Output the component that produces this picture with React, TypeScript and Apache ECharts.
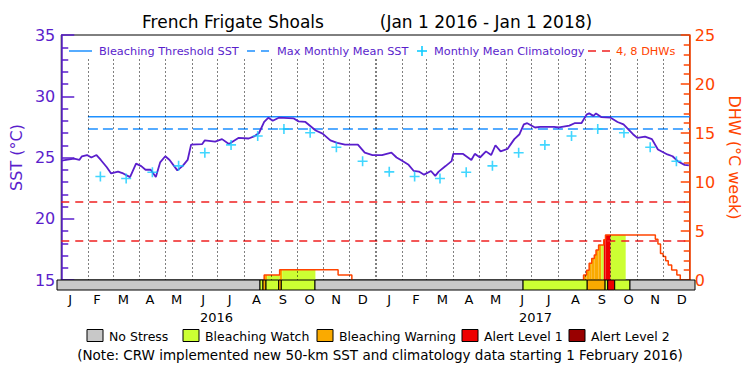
import React, { useEffect, useRef } from "react";
import * as echarts from "echarts";

const FONT = "DejaVu Sans";

// Calendar: day offsets from 1 Jan 2016 (2016 is a leap year)
const totalDays = 731;
const monthStartDays = [0, 31, 60, 91, 121, 152, 182, 213, 244, 274, 305, 335, 366, 397, 425, 456, 486, 517, 547, 578, 609, 639, 670, 700, 731];
const monthLabels = ["J", "F", "M", "A", "M", "J", "J", "A", "S", "O", "N", "D", "J", "F", "M", "A", "M", "J", "J", "A", "S", "O", "N", "D"];
const yearLabels = ["2016", "2017"];

// SST (°C) : [day since 1 Jan 2016, value]
const sstPoints: [number, number][] = [
  [0, 24.75], [15, 24.9], [21, 24.8], [24, 25.1], [30, 25.2], [35, 25.0], [41, 25.2], [46, 24.8],
  [53, 24.2], [58, 23.7], [66, 23.85], [72, 23.7], [80, 23.4], [87, 24.5], [93, 24.3], [98, 24.0],
  [104, 24.0], [110, 23.4], [115, 24.6], [121, 25.1], [126, 24.8], [135, 23.95], [141, 24.3], [147, 24.8],
  [151, 26.05], [164, 26.1], [167, 26.4], [179, 26.3], [187, 26.5], [195, 26.1], [206, 26.6], [218, 26.55],
  [225, 26.75], [230, 27.0], [236, 27.9], [241, 28.25], [246, 28.0], [253, 28.25], [270, 28.2], [276, 27.95],
  [284, 27.9], [296, 27.2], [304, 26.95], [313, 26.4], [321, 26.2], [330, 26.05], [345, 26.05], [353, 25.4],
  [362, 25.2], [373, 25.2], [384, 25.4], [390, 25.0], [396, 24.75], [404, 24.4], [410, 23.9], [416, 23.85],
  [422, 23.6], [430, 23.9], [435, 23.5], [439, 23.85], [447, 24.3], [454, 24.7], [456, 25.3], [467, 25.3],
  [477, 24.8], [481, 25.3], [487, 25.0], [494, 25.5], [500, 25.2], [505, 26.0], [511, 25.5], [519, 25.7],
  [527, 26.5], [533, 26.9], [538, 27.7], [542, 27.8], [551, 27.45], [557, 27.5], [573, 27.5], [579, 27.45],
  [591, 27.6], [597, 27.8], [605, 27.8], [611, 28.5], [614, 28.6], [619, 28.4], [622, 28.6], [628, 28.3],
  [639, 28.25], [647, 27.9], [654, 27.7], [665, 26.9], [670, 26.6], [679, 26.7], [687, 26.5], [694, 25.65],
  [705, 25.25], [711, 25.1], [717, 24.7], [725, 24.4], [730, 24.35]
];

// Monthly mean climatology (Jan..Dec), shown from Feb 2016
const climatologyMonthly = [23.83, 23.45, 23.28, 23.8, 24.32, 25.39, 26.03, 26.75, 27.33, 27.02, 25.84, 24.7];
const climatologyFirstMonth = 1;
const bleachingThreshold = 28.33;
const maxMonthlyMean = 27.33;
const thresholdStartDay = 31;
const dhwLevels = [4, 8];
const gridLineTopSST = 33;

// Degree Heating Weeks: value holds from this day until next entry
const dhwDays = [236, 254, 322, 338, 607.5, 611, 614, 617, 620, 622, 625, 631, 633, 691, 694, 697, 700, 703, 706, 710, 716, 720];
const dhwValues = [0.5, 1.05, 0.5, 0, 0.5, 1.0, 1.7, 2.2, 2.55, 3.06, 3.57, 4.1, 4.6, 4.15, 3.67, 2.7, 2.4, 1.97, 1.53, 1.02, 0.51, 0];

// Bleaching alert status: segment start days and level (0 none .. 4 alert 2)
const statusStartDays = [0, 232.6, 236, 239.5, 254, 257, 295.6, 534, 607.5, 628, 631, 639, 656.5];
const statusLevels = [0, 1, 2, 1, 2, 1, 0, 1, 2, 1, 3, 1, 0];
const statusNames = ["No Stress", "Bleaching Watch", "Bleaching Warning", "Alert Level 1", "Alert Level 2"];
const statusColors = ["#c8c8c8", "#ccff33", "#faaa00", "#ee0000", "#990000"];

const SST_COLOR = "#5a1ecc";
const DHW_COLOR = "#ff4400";
const THRESH_COLOR = "#1e90ff";
const CLIM_COLOR = "#11ccff";
const DHW_LINE_COLOR = "#f02020";

export default function App() {
  const ref = useRef<HTMLDivElement>(null);
  useEffect(() => {
    if (!ref.current) return;
    const chart = echarts.init(ref.current, undefined, { renderer: "svg" });

    const segments = statusStartDays.map((s, i) => [
      s,
      i + 1 < statusStartDays.length ? statusStartDays[i + 1] : totalDays,
      statusLevels[i],
    ]);
    const alertSegments = segments.filter((s) => s[2] > 0);

    const climData: [number, number][] = [];
    for (let m = climatologyFirstMonth; m < 24; m++) {
      const mid = (monthStartDays[m] + monthStartDays[m + 1]) / 2;
      climData.push([mid, climatologyMonthly[m % 12]]);
    }

    const dhwOutline: any[] = [];
    for (let i = 0; i < dhwDays.length; i++) {
      if (i === 0 || dhwValues[i - 1] === 0) {
        if (i > 0) dhwOutline.push(null);
        dhwOutline.push([dhwDays[i], 0]);
      }
      dhwOutline.push([dhwDays[i], dhwValues[i]]);
    }

    const monthLines = monthStartDays.slice(1, -1).map((d) => [
      { coord: [d, gridLineTopSST], lineStyle: { type: [1, 3], color: "#000", width: d === 366 ? 2 : 1 } },
      { coord: [d, 15] },
    ]);

    const plusPath = "path://M4.2,0h1.6v4.2h4.2v1.6h-4.2v4.2h-1.6v-4.2h-4.2v-1.6h4.2z";

    const legendY = 51;
    const legendText = (x: number, text: string, color: string) => ({
      type: "text", x, y: legendY,
      style: { text, fill: color, font: `11.3px "${FONT}"`, align: "left", verticalAlign: "middle" },
    });
    const bottomLegend: any[] = [];
    const boxX = [87, 183, 317, 462, 569];
    statusNames.forEach((n, i) => {
      bottomLegend.push({ type: "rect", shape: { x: boxX[i], y: 329.5, width: 16, height: 12 }, style: { fill: statusColors[i], stroke: "#000", lineWidth: 1 } });
      bottomLegend.push({ type: "text", x: boxX[i] + 22, y: 336, style: { text: n, fill: "#000", font: `12.5px "${FONT}"`, align: "left", verticalAlign: "middle" } });
    });

    chart.setOption({
      animation: false,
      backgroundColor: "#fff",
      textStyle: { fontFamily: FONT },
      grid: [
        { left: 57, right: 55, top: 35, height: 245, show: true, borderColor: "#000", borderWidth: 1, backgroundColor: "transparent" },
        { left: 57, right: 55, top: 280, height: 10, show: false },
      ],
      xAxis: [
        { gridIndex: 0, type: "value", min: 0, max: totalDays, show: false },
        { gridIndex: 1, type: "value", min: 0, max: totalDays, show: false },
        {
          gridIndex: 1, type: "category", data: monthLabels, position: "bottom", boundaryGap: true,
          axisLine: { show: false }, axisTick: { show: false }, splitLine: { show: false },
          axisLabel: { interval: 0, margin: 3, fontSize: 13, color: "#000", fontFamily: FONT },
        },
        {
          gridIndex: 1, type: "category", data: yearLabels, position: "bottom", offset: 18, boundaryGap: true,
          axisLine: { show: false }, axisTick: { show: false }, splitLine: { show: false },
          axisLabel: { interval: 0, margin: 3, fontSize: 13, color: "#000", fontFamily: FONT },
        },
      ],
      yAxis: [
        {
          gridIndex: 0, type: "value", min: 15, max: 35, interval: 5, position: "left",
          name: "SST (°C)", nameLocation: "middle", nameRotate: 90, nameGap: 31,
          nameTextStyle: { color: SST_COLOR, fontSize: 16, fontFamily: FONT },
          axisLine: { show: true, lineStyle: { color: SST_COLOR, width: 1.5 } },
          axisTick: { show: true, inside: true, length: 13, lineStyle: { color: SST_COLOR, width: 1.5 } },
          minorTick: { show: true, splitNumber: 5, length: 7, lineStyle: { color: SST_COLOR, width: 1.5 } },
          axisLabel: { color: SST_COLOR, fontSize: 16, margin: 6, fontFamily: FONT },
          splitLine: { show: false },
        },
        {
          gridIndex: 0, type: "value", min: 0, max: 25, interval: 5, position: "right",
          name: "DHW (°C week)", nameLocation: "middle", nameRotate: -90, nameGap: 34,
          nameTextStyle: { color: DHW_COLOR, fontSize: 16, fontFamily: FONT },
          axisLine: { show: true, lineStyle: { color: DHW_COLOR, width: 1.5 } },
          axisTick: { show: true, inside: true, length: 9, lineStyle: { color: DHW_COLOR, width: 1.5 } },
          minorTick: { show: true, splitNumber: 5, length: 6, lineStyle: { color: DHW_COLOR, width: 1.5 } },
          axisLabel: { color: DHW_COLOR, fontSize: 16, margin: 5, fontFamily: FONT },
          splitLine: { show: false },
        },
        { gridIndex: 1, type: "value", min: 0, max: 1, show: false },
      ],
      series: [
        {
          type: "custom", name: "DHW fill", xAxisIndex: 0, yAxisIndex: 1, z: 1, silent: true,
          data: alertSegments, encode: { x: [0, 1] },
          renderItem: (params: any, api: any) => {
            const s = api.value(0), e = api.value(1), lvl = api.value(2);
            const children: any[] = [];
            for (let i = 0; i < dhwDays.length - 1; i++) {
              const v = dhwValues[i];
              if (!v) continue;
              const a = Math.max(s, dhwDays[i]);
              const b = Math.min(e, dhwDays[i + 1]);
              if (b <= a) continue;
              const p0 = api.coord([a, v]);
              const p1 = api.coord([b, 0]);
              children.push({
                type: "rect",
                shape: { x: p0[0], y: p0[1], width: p1[0] - p0[0], height: p1[1] - p0[1] },
                style: { fill: statusColors[lvl] },
              });
            }
            return { type: "group", children };
          },
        },
        {
          type: "custom", name: "Status", xAxisIndex: 1, yAxisIndex: 2, z: 5, silent: true,
          data: segments, encode: { x: [0, 1] },
          renderItem: (params: any, api: any) => {
            const s = api.value(0), e = api.value(1), lvl = api.value(2);
            const p0 = api.coord([s, 1]);
            const p1 = api.coord([e, 0]);
            return {
              type: "rect",
              shape: { x: p0[0], y: p0[1], width: p1[0] - p0[0], height: p1[1] - p0[1] },
              style: { fill: statusColors[lvl], stroke: "#000", lineWidth: 1 },
            };
          },
        },
        {
          type: "line", name: "Bleaching Threshold SST", xAxisIndex: 0, yAxisIndex: 0, z: 3,
          data: [[thresholdStartDay, bleachingThreshold], [totalDays, bleachingThreshold]],
          symbol: "none", lineStyle: { color: THRESH_COLOR, width: 1.5 }, silent: true,
        },
        {
          type: "line", name: "Max Monthly Mean SST", xAxisIndex: 0, yAxisIndex: 0, z: 3,
          data: [[thresholdStartDay, maxMonthlyMean], [totalDays, maxMonthlyMean]],
          symbol: "none", lineStyle: { color: THRESH_COLOR, width: 1.5, type: [10, 5] }, silent: true,
        },
        {
          type: "line", name: "DHW", xAxisIndex: 0, yAxisIndex: 1, z: 4, step: "end",
          data: dhwOutline, connectNulls: false, symbol: "none",
          lineStyle: { color: DHW_COLOR, width: 1.5 }, silent: true,
          markLine: {
            silent: true, symbol: ["none", "none"], label: { show: false },
            lineStyle: { color: DHW_LINE_COLOR, type: [8, 6], width: 1.5 },
            data: dhwLevels.map((v) => ({ yAxis: v })),
          },
        },
        {
          type: "line", name: "SST", xAxisIndex: 0, yAxisIndex: 0, z: 6,
          data: sstPoints, symbol: "none", lineStyle: { color: SST_COLOR, width: 1.8 }, silent: true,
          markLine: {
            silent: true, symbol: ["none", "none"], label: { show: false },
            data: monthLines,
          },
        },
        {
          type: "scatter", name: "Monthly Mean Climatology", xAxisIndex: 0, yAxisIndex: 0, z: 7,
          data: climData, symbol: plusPath, symbolSize: 10, itemStyle: { color: CLIM_COLOR }, silent: true,
        },
      ],
      graphic: [
        { type: "text", x: 233, y: 22, style: { text: "French Frigate Shoals", fill: "#000", font: `17px "${FONT}"`, align: "center", verticalAlign: "middle" } },
        { type: "text", x: 486, y: 22, style: { text: "(Jan 1 2016 - Jan 1 2018)", fill: "#000", font: `17px "${FONT}"`, align: "center", verticalAlign: "middle" } },
        { type: "line", shape: { x1: 69, y1: legendY, x2: 92, y2: legendY }, style: { stroke: THRESH_COLOR, lineWidth: 1.5 } },
        legendText(99, "Bleaching Threshold SST", SST_COLOR),
        { type: "line", shape: { x1: 247, y1: legendY, x2: 270, y2: legendY }, style: { stroke: THRESH_COLOR, lineWidth: 1.5, lineDash: [8, 6] } },
        legendText(277, "Max Monthly Mean SST", SST_COLOR),
        { type: "line", shape: { x1: 417, y1: legendY, x2: 427, y2: legendY }, style: { stroke: CLIM_COLOR, lineWidth: 1.6 } },
        { type: "line", shape: { x1: 422, y1: legendY - 5, x2: 422, y2: legendY + 5 }, style: { stroke: CLIM_COLOR, lineWidth: 1.6 } },
        legendText(434, "Monthly Mean Climatology", SST_COLOR),
        { type: "line", shape: { x1: 588, y1: legendY, x2: 611, y2: legendY }, style: { stroke: DHW_LINE_COLOR, lineWidth: 1.5, lineDash: [8, 6] } },
        legendText(616, "4, 8 DHWs", DHW_COLOR),
        ...bottomLegend,
        { type: "text", x: 380, y: 355, style: { text: "(Note: CRW implemented new 50-km SST and climatology data starting 1 February 2016)", fill: "#000", font: `13.5px "${FONT}"`, align: "center", verticalAlign: "middle" } },
      ],
    });
    return () => chart.dispose();
  }, []);
  return <div ref={ref} style={{ width: 750, height: 375, position: "absolute", left: 0, top: 0 }} />;
}
